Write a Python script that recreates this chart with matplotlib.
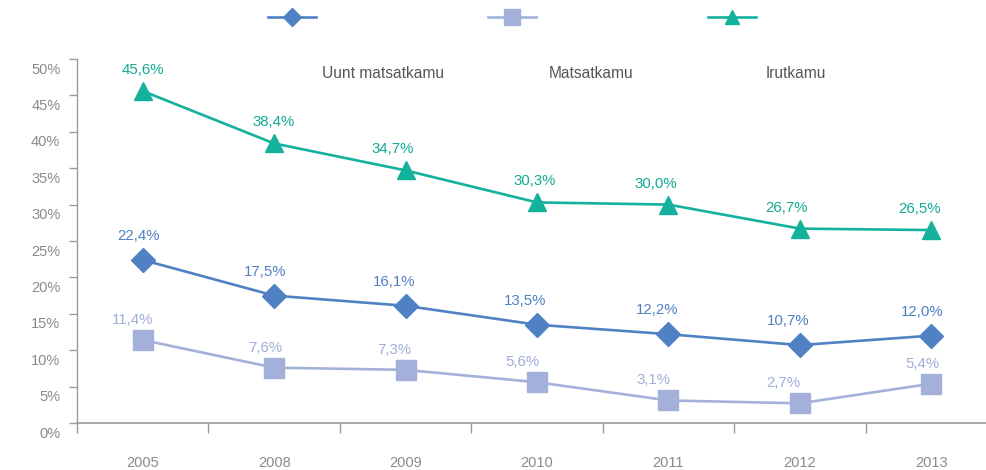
import numpy as np
import matplotlib
matplotlib.use("Agg")
import matplotlib.pyplot as plt
from matplotlib.lines import Line2D
from matplotlib.transforms import ScaledTranslation

plt.rcParams["font.family"] = ["Liberation Sans", "DejaVu Sans"]

# --------------------------------------------------------------------------- #
# Data
# --------------------------------------------------------------------------- #
years = ["2005", "2008", "2009", "2010", "2011", "2012", "2013"]
series_names = ["Uunt matsatkamu", "Matsatkamu", "Irutkamu"]
uunt = [22.4, 17.5, 16.1, 13.5, 12.2, 10.7, 12.0]
matsat = [11.4, 7.6, 7.3, 5.6, 3.1, 2.7, 5.4]
irut = [45.6, 38.4, 34.7, 30.3, 30.0, 26.7, 26.5]
y_ticks = [0, 5, 10, 15, 20, 25, 30, 35, 40, 45, 50]

# styling per series: colour, label colour, marker, size, label offset (px)
styles = [
    (uunt, "#4F81C4", "#4F81C4", "D", 12.5, [-4, -9, -11, -12, -11, -12, -9], 24),
    (matsat, "#A3B1DA", "#9FAED8", "s", 15, [-10, -9, -11, -15, -15, -17, -9], 20),
    (irut, "#14B19C", "#12AA95", "^", 13.5, [0, -1, -13, -2, -13, -13, -12], 21),
]

GREY = "#9a9a9a"
TXT = "#8a8a8a"

fig = plt.figure(figsize=(9.87, 4.70), dpi=100)
ax = fig.add_axes([77 / 987, (470 - 423) / 470, 920 / 987, 364 / 470])

x = np.arange(len(years))
handles = []
for vals, col, lcol, mk, ms, dx, dy in styles:
    ax.plot(x, vals, color=col, lw=1.9, marker=mk, ms=ms, mec=col, mfc=col, zorder=3)
    handles.append(Line2D([], [], color=col, lw=1.9, marker=mk, ms=ms, mec=col, mfc=col))
    for xi, v, ox in zip(x, vals, dx):
        ax.annotate(f"{v:.1f}%".replace(".", ","), (xi, v),
                    xytext=(ox * 0.72, dy * 0.72), textcoords="offset points",
                    ha="center", va="center", fontsize=10.8, color=lcol)

ax.set_xlim(-0.5, len(years) - 0.5)
ax.set_ylim(0, 50)

# axes / ticks
for s in ["top", "right"]:
    ax.spines[s].set_visible(False)
ax.spines["left"].set_color(GREY)
ax.spines["bottom"].set_color(GREY)
ax.spines["left"].set_linewidth(1.0)
ax.spines["bottom"].set_linewidth(1.2)

ax.set_xticks(x)
ax.set_xticklabels(years)
ax.set_xticks(np.arange(len(years) + 1) - 0.5, minor=True)
ax.tick_params(axis="x", which="major", length=0, pad=24, labelsize=10.5, labelcolor=TXT)
ax.tick_params(axis="x", which="minor", length=7, width=1.0, color=GREY)

ax.set_yticks(y_ticks)
ax.set_yticklabels([f"{t}%" for t in y_ticks])
ax.tick_params(axis="y", length=6, width=1.0, color=GREY, pad=6,
               labelsize=10.5, labelcolor=TXT)
shift = ScaledTranslation(0, -9 / 100, fig.dpi_scale_trans)
for lbl in ax.get_yticklabels():
    lbl.set_transform(lbl.get_transform() + shift)

# legend: handles only at top, names sit inside the plot
fig.legend(handles, ["", "", ""], loc="center", ncol=3, frameon=False,
           bbox_to_anchor=(512 / 987, 1 - 18 / 470), fontsize=10,
           handlelength=3.45, handletextpad=0, columnspacing=12.4,
           numpoints=1, markerscale=0.75)

name_x = [0.266, 0.513, 0.749]
for nx, name in zip(name_x, series_names):
    ax.text(nx, 0.959, name, transform=ax.transAxes, ha="left", va="center",
            fontsize=11.2, color="#555555")

fig.savefig("out.png", dpi=100)
